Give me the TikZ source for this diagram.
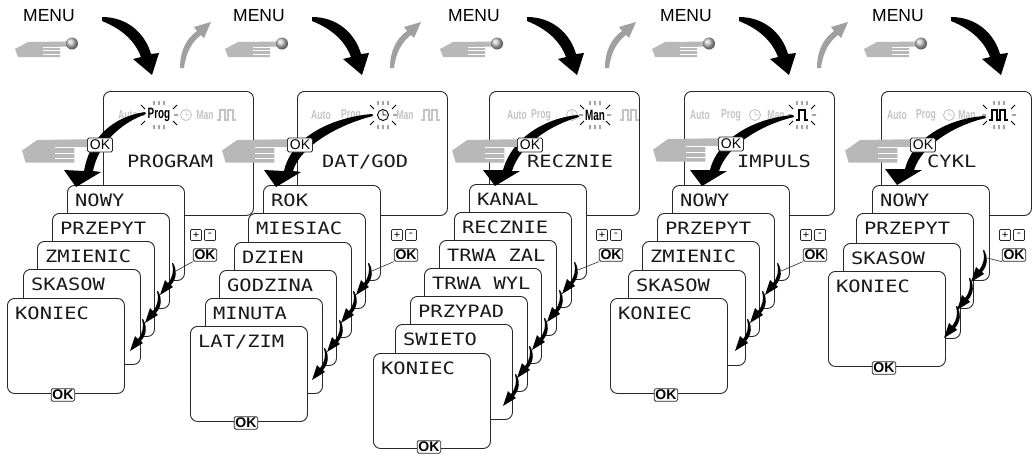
\documentclass[tikz,border=0pt]{standalone}
\usepackage{fontspec}
\setmainfont{Liberation Sans}
\newfontfamily\lcd[FakeStretch=1.2]{DejaVu Sans Mono}
\newfontfamily\statf[FakeStretch=0.66]{Liberation Sans}
\usetikzlibrary{arrows.meta,calc}
\definecolor{handgray}{RGB}{184,184,184}
\definecolor{arrgray}{RGB}{160,160,160}
\definecolor{stgray}{RGB}{196,196,196}
\definecolor{edge}{RGB}{40,40,40}
\tikzset{
  scr/.style={draw=edge, line width=0.9pt, fill=white, rounded corners=7pt, anchor=north west, inner sep=0},
  subscr/.style={scr, minimum width=117pt, minimum height=95pt},
  mainscr/.style={scr, minimum width=150pt, minimum height=124pt},
  lcdt/.style={font=\lcd\fontsize{17}{17}\selectfont, anchor=base west, inner sep=0, text=black!90},
  okb/.style={draw=edge, line width=0.8pt, fill=white, rounded corners=1.5pt, inner sep=1.3pt, font=\bfseries\fontsize{14}{14}\selectfont},
  okd/.style={draw=edge, line width=0.8pt, fill=white, rounded corners=1.5pt, inner sep=0pt, minimum width=25pt, minimum height=14pt, font=\fontsize{14}{14}\selectfont},
  pmbox/.style={draw=edge, line width=0.7pt, fill=white, rounded corners=1pt, minimum size=11pt, inner sep=0, font=\fontsize{11}{11}\selectfont},
  st/.style={font=\statf\bfseries\fontsize{13}{13}\selectfont, text=stgray, inner sep=0},
  sta/.style={font=\statf\bfseries\fontsize{15}{15}\selectfont, text=black, inner sep=0},
  menut/.style={font=\fontsize{17.5}{17.5}\selectfont, inner sep=0, anchor=west},
  ray/.style={line width=0.8pt, black},
  link/.style={line width=0.6pt, edge},
  topblack/.pic={\fill[black] (0,-2) .. controls (25,-2) and (43,14) .. (49,35) -- (57,34) -- (50,56) -- (31,40) -- (39,38) .. controls (33,22) and (20,10) .. (0,2) -- cycle;},
  grayarr/.pic={\fill[arrgray] (0,0) .. controls (0,-18) and (7,-30) .. (17,-37) -- (14,-41) -- (31,-46) -- (24,-30) -- (21,-33) .. controls (12,-26) and (6,-16) .. (4,0) -- cycle;},
  smallarr/.pic={\fill[black] (0,0) .. controls (4,7) and (4,15) .. (-2,22) -- (0,24) -- (-13,32) -- (-8,17) -- (-5,20) .. controls (0,14) and (1,7) .. (-1,0) -- cycle;},
  hand/.pic={\fill[handgray] (0,9) -- (13,2) -- (56,1.5) -- (56,6.5) -- (45,6.5) -- (45,17) -- (3,17) -- cycle;
    \draw[white, line width=0.9pt] (28,7.2) -- (46,7.2) (28,10.9) -- (46,10.9) (28,14.3) -- (46,14.3);}
}
\newcommand\subscreen[4]{\node[subscr] (#1) at (#2,#3) {}; \node[lcdt] (#1t) at (#2+8,#3+21) {#4};}
\newcommand\rays[3]{\draw[ray] (#1-5,#2-14) -- (#1-5,#2-10) (#1,#2-14) -- (#1,#2-10) (#1+5,#2-14) -- (#1+5,#2-10)
  (#1-5,#2+10) -- (#1-5,#2+14) (#1,#2+10) -- (#1,#2+14) (#1+5,#2+10) -- (#1+5,#2+14)
  (#1-#3-2,#2-6) -- (#1-#3-6,#2-10) (#1+#3+2,#2-6) -- (#1+#3+6,#2-10)
  (#1-#3-2,#2+6) -- (#1-#3-6,#2+10) (#1+#3+2,#2+6) -- (#1+#3+6,#2+10)
  (#1-#3-3,#2) -- (#1-#3-7,#2) (#1+#3+3,#2) -- (#1+#3+7,#2);}
\newcommand\clockicon[3]{\draw[#3, line width=0.9pt] (#1,#2) circle (5.5) (#1,#2-4) -- (#1,#2) -- (#1+3.5,#2);}
\newcommand\pulsesicon[3]{\draw[#3, line width=1.8pt] (#1,#2+5) -- ++(3,0) -- ++(0,-10) -- ++(5,0) -- ++(0,10) -- ++(3,0) -- ++(0,-10) -- ++(5,0) -- ++(0,10) -- ++(3,0);}
\newcommand\pulseicon[3]{\draw[#3, line width=1.8pt] (#1,#2+5) -- ++(3,0) -- ++(0,-10) -- ++(6,0) -- ++(0,10) -- ++(3,0);}
\newcommand\sidectl[3]{% name, plus center x, y
  \node[pmbox] (#1p) at (#2,#3) {+};
  \node[pmbox] (#1m) at (#2+14,#3) {-};
  \node[okb] (#1ok) at (#2+9,#3+20) {OK};}
\begin{document}
\begin{tikzpicture}[x=1pt,y=-1pt]
\useasboundingbox (0,0) rectangle (1032,456);
% ---------- top row ----------
\foreach \dx/\n in {0/1,210/2,425/3,637/4,849/5}{
  \node[menut] (menu\n) at (23+\dx,16) {MENU};
  \pic at (15+\dx,40) {hand};
  \shade[ball color=gray!45] (72+\dx,43.5) circle (6);
  \pic at (102+\dx,19) {topblack};
}
\foreach \dx in {0,210,425,637}{ \pic at (180+\dx,68) {grayarr}; }
% ---------- main displays ----------
\node[mainscr] (d1) at (103,91) {};
\node[mainscr] (d2) at (297,91) {};
\node[mainscr] (d3) at (489,91) {};
\node[mainscr] (d4) at (684,91) {};
\node[mainscr] (d5) at (881,91) {};
% status rows
\node[st] (s1a) at (128,115) {Auto}; \node[sta] (s1p) at (159,115) {Prog}; \rays{159}{115}{12}
\clockicon{186}{115}{stgray} \node[st] (s1m) at (205,115) {Man}; \pulsesicon{217}{115}{stgray}
\node[st] (s2a) at (321,115) {Auto}; \node[st] (s2p) at (351,115) {Prog}; \clockicon{383}{115}{black} \rays{383}{115}{7}
\node[st] (s2m) at (405,115) {Man}; \pulsesicon{421}{115}{stgray}
\node[st] (s3a) at (517,115) {Auto}; \node[st] (s3p) at (541,115) {Prog}; \clockicon{572}{115}{stgray}
\node[sta] (s3m) at (595,115) {Man}; \rays{595}{115}{9} \pulsesicon{620}{115}{stgray}
\node[st] (s4a) at (700,115) {Auto}; \node[st] (s4p) at (731,115) {Prog}; \clockicon{755}{115}{stgray}
\node[st] (s4m) at (776,115) {Man}; \pulseicon{796}{115}{black} \rays{802}{115}{7}
\node[st] (s5a) at (897,115) {Auto}; \node[st] (s5p) at (926,115) {Prog}; \clockicon{949}{115}{stgray}
\node[st] (s5m) at (967,115) {Man}; \pulsesicon{989}{115}{black} \rays{999}{115}{10}
% titles
\node[lcdt] (t1) at (127,167) {PROGRAM};
\node[lcdt] (t2) at (322,167) {DAT/GOD};
\node[lcdt] (t3) at (527,167) {RECZNIE};
\node[lcdt] (t4) at (737,167) {IMPULS};
\node[lcdt] (t5) at (927,167) {CYKL};
% ---------- sub screens ----------
\subscreen{a1}{67}{185}{NOWY}
\subscreen{a2}{52}{213}{PRZEPYT}
\subscreen{a3}{37}{241}{ZMIENIC}
\subscreen{a4}{23}{269}{SKASOW}
\subscreen{a5}{7}{298}{KONIEC}
\subscreen{b1}{263}{185}{ROK}
\subscreen{b2}{248}{213}{MIESIAC}
\subscreen{b3}{234}{242}{DZIEN}
\subscreen{b4}{219}{270}{GODZINA}
\subscreen{b5}{205}{298}{MINUTA}
\subscreen{b6}{190}{326}{LAT/ZIM}
\subscreen{c1}{469}{184}{KANAL}
\subscreen{c2}{454}{212}{RECZNIE}
\subscreen{c3}{439}{240}{TRWA ZAL}
\subscreen{c4}{424}{268}{TRWA WYL}
\subscreen{c5}{410}{296}{PRZYPAD}
\subscreen{c6}{395}{324}{SWIETO}
\subscreen{c7}{373}{353}{KONIEC}
\subscreen{e1}{672}{185}{NOWY}
\subscreen{e2}{657}{213}{PRZEPYT}
\subscreen{e3}{642}{241}{ZMIENIC}
\subscreen{e4}{628}{270}{SKASOW}
\subscreen{e5}{610}{298}{KONIEC}
\subscreen{f1}{872}{185}{NOWY}
\subscreen{f2}{856}{213}{PRZEPYT}
\subscreen{f3}{843}{243}{SKASOW}
\subscreen{f4}{828}{271}{KONIEC}
% bottom OK labels
\node[okb] (a5ok) at ($(a5.south)+(-3,1)$) {OK};
\node[okb] (b6ok) at ($(b6.south)+(-3,1)$) {OK};
\node[okb] (c7ok) at ($(c7.south)+(-3,-2)$) {OK};
\node[okb] (e5ok) at ($(e5.south)+(-3,1)$) {OK};
\node[okb] (f4ok) at ($(f4.south)+(-3,1)$) {OK};
% ---------- small arrows ----------
\foreach \p in {(173,263),(158,291),(143,319),
  (369,263),(354,291),(340,320),(325,348),
  (575,262),(560,290),(545,318),(530,346),(516,374),
  (778,263),(763,291),(748,319),
  (984,250),(970,278),(957,306)}{\pic at \p {smallarr};}
% side controls
\sidectl{k1}{196}{235}
\sidectl{k2}{397}{235}
\sidectl{k3}{602}{235}
\sidectl{k4}{806}{235}
\sidectl{k5}{1005}{235}
\coordinate (j1) at (176,271); \coordinate (j2) at (372,271); \coordinate (j3) at (578,270);
\coordinate (j4) at (781,271); \coordinate (j5) at (987,258);
\foreach \i in {1,...,5}{\draw[link] (k\i ok.south west) -- (j\i);}
% ---------- main arrows ----------
\fill[black] (145,112) .. controls (112,117) and (90,138) .. (84,171) -- (64,170) -- (76,187) -- (101,172) -- (93,171) .. controls (98,146) and (118,124) .. (146,114) -- cycle;
\fill[black] (372,114) .. controls (335,117) and (292,135) .. (284,171) -- (264,170) -- (276,187) -- (301,172) -- (293,171) .. controls (300,146) and (340,124) .. (373,116) -- cycle;
\fill[black] (578,115) .. controls (545,118) and (512,138) .. (503,170) -- (483,170) -- (495,186) -- (520,171) -- (512,171) .. controls (520,145) and (550,125) .. (579,117) -- cycle;
\fill[black] (793,115) .. controls (755,118) and (718,138) .. (710,170) -- (690,170) -- (702,186) -- (727,171) -- (719,171) .. controls (727,146) and (760,125) .. (794,117) -- cycle;
\fill[black] (985,116) .. controls (950,118) and (913,137) .. (905,169) -- (885,169) -- (897,185) -- (922,170) -- (914,170) .. controls (922,145) and (955,125) .. (986,118) -- cycle;
% display OK boxes and hands
\node[okd] (o1) at (100,145) {OK};
\node[okd] (o2) at (300,145) {OK};
\node[okd] (o3) at (530,145) {OK};
\node[okd] (o4) at (731,144) {OK};
\node[okd] (o5) at (923,145) {OK};
\foreach \i in {1,...,5}{\pic[xscale=1.16,yscale=1.5] at ($(o\i.west)+(-65,-8)$) {hand};}
\end{tikzpicture}
\end{document}
